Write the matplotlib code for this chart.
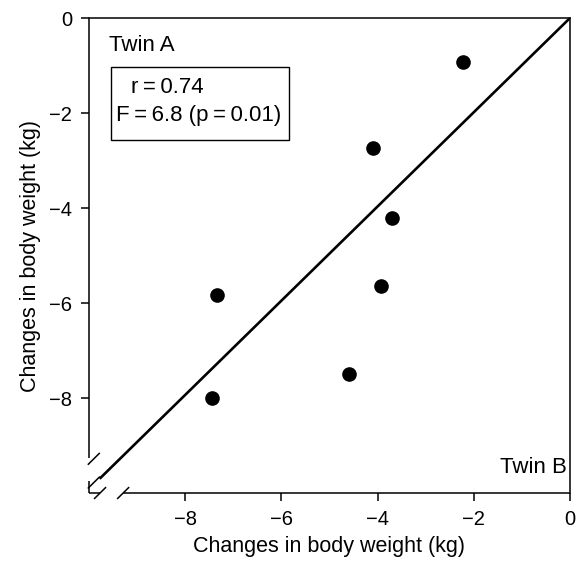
import matplotlib as mpl
mpl.use('Agg')
import matplotlib.pyplot as plt
from matplotlib.patches import Rectangle

# changes in body weight (kg), twin B on x and twin A on y
twin_b = [-7.34, -7.44, -4.60, -3.93, -2.23, -3.70, -4.10]
twin_a = [-5.83, -8.00, -7.49, -5.64, -0.92, -4.22, -2.74]
ticks = [-8, -6, -4, -2, 0]
tick_labels = ["\u22128", "\u22126", "\u22124", "\u22122", "0"]
r_text = "r\u2009=\u20090.74"
f_text = "F\u2009=\u20096.8 (p\u2009=\u20090.01)"

plt.rcParams['font.family'] = ['Liberation Sans', 'DejaVu Sans']

def draw_break_axes(ax):
    # left and bottom spines are drawn by hand so the corner can be broken
    ax.spines['left'].set_visible(False)
    ax.spines['bottom'].set_visible(False)
    kw = dict(color='black', lw=1.1, clip_on=False, solid_capstyle='butt')
    ax.plot([-10, -10], [0, -9.26], **kw)
    ax.plot([-10, -10], [-9.74, -10], **kw)
    ax.plot([-10, -9.77], [-10, -10], **kw)
    ax.plot([-9.29, 0], [-10, -10], **kw)
    # slashes at the break
    d = 0.125
    for x, y in [(-9.9, -9.28), (-9.9, -9.78), (-9.77, -10), (-9.29, -10)]:
        ax.plot([x - d, x + d], [y - d, y + d], **kw)


def main():
    fig = plt.figure(figsize=(5.84, 5.65), dpi=100)
    ax = fig.add_axes([0.1524, 0.1274, 0.8236, 0.8407])

    ax.plot([-9.76, 0], [-9.68, 0], color='black', lw=1.9, zorder=2)
    ax.plot(twin_b, twin_a, 'o', color='black', markersize=9.5, zorder=3)

    ax.set_xlim(-10, 0)
    ax.set_ylim(-10, 0)
    ax.set_xticks(ticks)
    ax.set_xticklabels(tick_labels)
    ax.set_yticks(ticks)
    ax.set_yticklabels(tick_labels)
    ax.tick_params(direction='out', length=6, width=1.1, labelsize=14.5, pad=6)
    for s in ['top', 'right']:
        ax.spines[s].set_linewidth(1.1)
    draw_break_axes(ax)

    ax.set_xlabel("Changes in body weight (kg)", fontsize=15.5, labelpad=5)
    ax.set_ylabel("Changes in body weight (kg)", fontsize=15.5, labelpad=6)

    ax.text(0.042, 0.943, "Twin A", transform=ax.transAxes, fontsize=16,
            ha='left', va='center')
    ax.text(0.994, 0.053, "Twin B", transform=ax.transAxes, fontsize=16,
            ha='right', va='center')
    ax.add_patch(Rectangle((0.0457, 0.743), 0.370, 0.154, transform=ax.transAxes,
                           fc='white', ec='black', lw=1.0, zorder=4))
    ax.text(0.087, 0.853, r_text, transform=ax.transAxes, fontsize=16,
            ha='left', va='center', zorder=5)
    ax.text(0.056, 0.794, f_text, transform=ax.transAxes, fontsize=16,
            ha='left', va='center', zorder=5)

    fig.savefig("out.png", dpi=100)


if __name__ == '__main__':
    main()
